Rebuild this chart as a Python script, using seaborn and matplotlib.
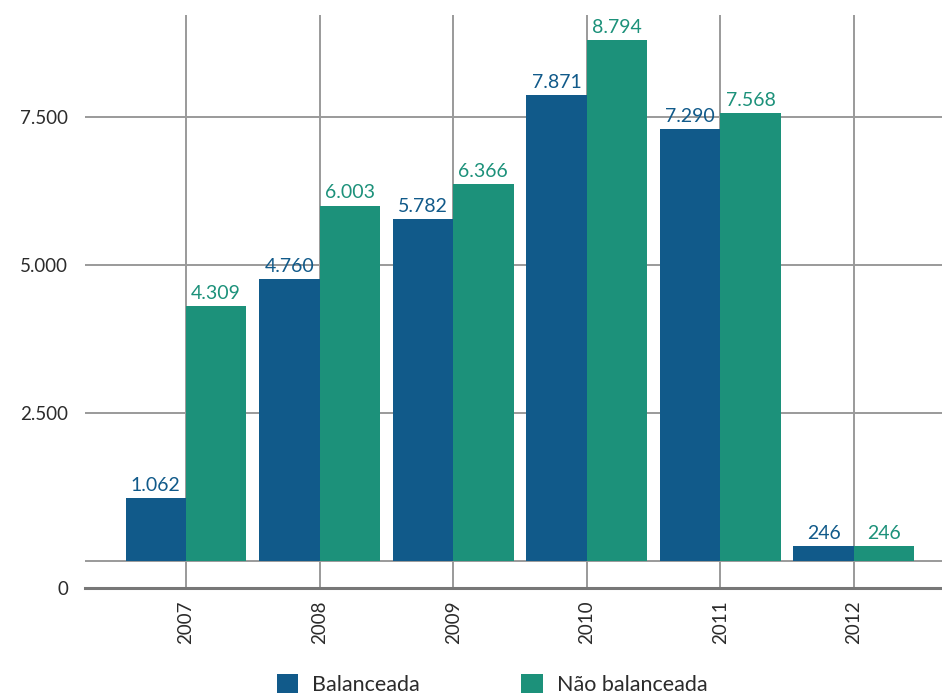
import matplotlib
matplotlib.use("Agg")
import matplotlib.pyplot as plt
from matplotlib.patches import Patch
import seaborn as sns
import pandas as pd

anos = ["2007", "2008", "2009", "2010", "2011", "2012"]
balanceada = [1062, 4760, 5782, 7871, 7290, 246]
nao_balanceada = [4309, 6003, 6366, 8794, 7568, 246]
series = ["Balanceada", "Não balanceada"]
ytick_vals = [-456, 2500, 5000, 7500]
ytick_labels = ["0", "2.500", "5.000", "7.500"]
grid_vals = [0, 2500, 5000, 7500]

azul = "#115A8A"
verde = "#1C917A"
texto = "#2b2b2b"

sns.set_theme(style="white")
plt.rcParams["font.family"] = ["Lato", "DejaVu Sans"]

df = pd.DataFrame({
    "Ano": anos * 2,
    "Valor": balanceada + nao_balanceada,
    "Série": [series[0]] * len(anos) + [series[1]] * len(anos),
})

fig = plt.figure(figsize=(9.42, 6.96), dpi=100)
ax = fig.add_axes([85 / 942, 1 - 588 / 696, 1 - 85 / 942, (588 - 15) / 696])

sns.barplot(data=df, x="Ano", y="Valor", hue="Série", palette=[azul, verde],
            width=0.905, saturation=1, ax=ax, legend=False, zorder=3,
            linewidth=0, edgecolor="none")

ax.set_xlim(-0.756, 5.66)
ax.set_ylim(-456, 9223)

# gridlines
for v in grid_vals:
    ax.axhline(v, color="#9a9a9a", lw=1.4, zorder=1)
ax.set_xticks(range(len(anos)))
ax.set_xticklabels(anos, rotation=90, fontsize=13.5, color=texto)
ax.grid(axis="x", color="#9a9a9a", lw=1.4, zorder=1)
ax.set_axisbelow(True)

ax.set_yticks(ytick_vals)
ax.set_yticklabels(ytick_labels, fontsize=13.5, color=texto)
ax.tick_params(axis="both", length=0)
ax.tick_params(axis="y", pad=12)
ax.tick_params(axis="x", pad=9)

for s in ["top", "right", "left"]:
    ax.spines[s].set_visible(False)
ax.spines["bottom"].set_color("#777777")
ax.spines["bottom"].set_linewidth(2.2)

ax.set_xlabel("")
ax.set_ylabel("")

def fmt(v):
    return f"{v:,}".replace(",", ".")

for cont, vals, cor in zip(ax.containers, [balanceada, nao_balanceada], [azul, verde]):
    ax.bar_label(cont, labels=[fmt(v) for v in vals], padding=3,
                 fontsize=14, color=cor)

handles = [Patch(facecolor=azul, edgecolor="none"), Patch(facecolor=verde, edgecolor="none")]
fig.legend(handles, series, loc="upper left", bbox_to_anchor=(268 / 942, 1 - 665 / 696),
           ncol=2, frameon=False, fontsize=15.5, handlelength=1.0, handleheight=1.0,
           handletextpad=0.65, columnspacing=4.7, labelcolor=texto,
           borderaxespad=0, borderpad=0.4)

fig.savefig("out.png", dpi=100)
